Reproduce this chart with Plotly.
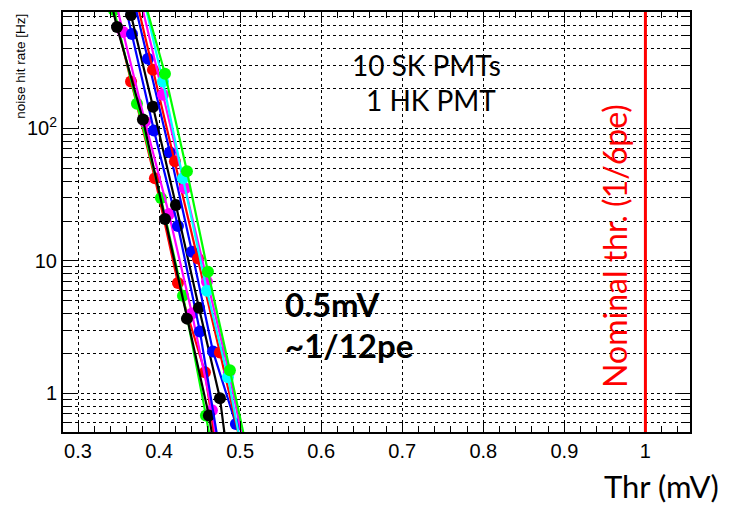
import plotly.graph_objects as go

# ---------------- data ----------------
green_a_x = [0.3444, 0.3727, 0.4023, 0.4295, 0.4578, 0.4680]
green_a_y = [785, 154, 29.8, 5.46, 0.68, 0.30]

magenta_a_x = [0.3290, 0.3555, 0.3826, 0.4122, 0.4406, 0.4652, 0.4750]
magenta_a_y = [2600, 536, 113, 22.6, 4.0, 0.745, 0.30]

red_b_x = [0.3370, 0.3654, 0.3949, 0.4233, 0.4566, 0.4690]
red_b_y = [1170, 226, 42, 6.8, 1.44, 0.44]

black_b_x = [0.3210, 0.3481, 0.3801, 0.4073, 0.4344, 0.4615, 0.4720]
black_b_y = [2900, 585, 117, 20.7, 3.66, 0.68, 0.28]

blue_b_x = [0.3400, 0.3666, 0.3937, 0.4233, 0.4504, 0.4726]
blue_b_y = [2600, 518, 96.6, 18.3, 2.93, 0.44]

black_a_x = [0.3380, 0.3654, 0.3925, 0.4208, 0.4492, 0.4751, 0.4825]
black_a_y = [3900, 719, 146, 26.4, 4.43, 0.917, 0.41]

blue_a_x = [0.3590, 0.3863, 0.4134, 0.4406, 0.4665, 0.4948, 0.5120]
blue_a_y = [1680, 336, 66, 11.7, 2.07, 0.585, 0.44]

red_a_x = [0.3654, 0.3925, 0.4196, 0.4480, 0.4751, 0.4998]
red_a_y = [1390, 278, 56.5, 10.4, 2.03, 0.44]

magenta_b_x = [0.3777, 0.4048, 0.4319, 0.4591, 0.4862, 0.5060]
magenta_b_y = [901, 180, 35.4, 6.95, 1.44, 0.37]

cyan_x = [0.3777, 0.4048, 0.4295, 0.4591, 0.4850, 0.4998]
cyan_y = [1170, 226, 42, 5.95, 1.32, 0.44]

green_b_x = [0.3826, 0.4073, 0.4344, 0.4603, 0.4874, 0.5060]
green_b_y = [901, 259, 47.5, 8.27, 1.49, 0.44]

NOMINAL_THR = 1.0

x_tick_vals = [0.3, 0.4, 0.5, 0.6, 0.7, 0.8, 0.9, 1.0]
y_tick_vals = [1, 10, 100]
y_tick_text = ["1", "10", "10<sup>2</sup>"]
y_minor_vals = [0.6, 0.7, 0.8, 0.9,
                2, 3, 4, 5, 6, 7, 8, 9,
                20, 30, 40, 50, 60, 70, 80, 90,
                200, 300, 400, 500, 600, 700]

series = [
    ("#ff0000", red_b_x, red_b_y),
    ("#00ff00", green_a_x, green_a_y),
    ("#ff00ff", magenta_a_x, magenta_a_y),
    ("#000000", black_b_x, black_b_y),
    ("#0000ff", blue_b_x, blue_b_y),
    ("#000000", black_a_x, black_a_y),
    ("#0000ff", blue_a_x, blue_a_y),
    ("#ff0000", red_a_x, red_a_y),
    ("#ff00ff", magenta_b_x, magenta_b_y),
    ("#00ffff", cyan_x, cyan_y),
    ("#00ff00", green_b_x, green_b_y),
]

fig = go.Figure()
for color, xs, ys in series:
    fig.add_trace(go.Scatter(
        x=xs, y=ys, mode="lines+markers",
        line=dict(color=color, width=2.2),
        marker=dict(color=color, size=12, symbol="circle"),
        showlegend=False, hoverinfo="skip",
    ))

fig.add_shape(type="line", xref="x", yref="paper",
              x0=NOMINAL_THR, x1=NOMINAL_THR, y0=0, y1=1,
              line=dict(color="#ff0000", width=3))

axis_common = dict(
    showline=True, linecolor="black", linewidth=2, mirror="allticks",
    ticks="inside", tickcolor="black", tickwidth=1,
    showgrid=True, gridcolor="black", griddash="dot", gridwidth=1,
    zeroline=False, tickfont=dict(family="Liberation Sans", size=20, color="black"),
)

fig.update_xaxes(
    range=[0.2815, 1.055], tickvals=x_tick_vals, ticklen=11,
    minor=dict(dtick=0.02, tick0=0.3, ticks="inside", ticklen=6,
               tickcolor="black", showgrid=False),
    **axis_common,
)
fig.update_yaxes(
    type="log", range=[-0.293, 2.88],
    tickvals=y_tick_vals, ticktext=y_tick_text, ticklen=15,
    minor=dict(tickvals=y_minor_vals, ticks="inside", ticklen=8,
               tickcolor="black", showgrid=True, gridcolor="black",
               griddash="dot", gridwidth=1),
    **axis_common,
)

calibri_like = "Lato"
fig.update_layout(
    width=729, height=505,
    margin=dict(l=63, r=39, t=10, b=73),
    paper_bgcolor="white", plot_bgcolor="white",
    showlegend=False,
    annotations=[
        dict(text="noise hit rate [Hz]", xref="paper", yref="paper",
             x=-0.068, y=1.0, xanchor="center", yanchor="top",
             textangle=-90, showarrow=False,
             font=dict(family="Liberation Sans", size=13.5, color="black")),
        dict(text="10 SK PMTs", xref="paper", yref="paper",
             x=0.5805, y=0.8744, xanchor="center", yanchor="middle",
             showarrow=False, font=dict(family=calibri_like, size=28, color="black")),
        dict(text="1 HK PMT", xref="paper", yref="paper",
             x=0.587, y=0.7915, xanchor="center", yanchor="middle",
             showarrow=False, font=dict(family=calibri_like, size=28, color="black")),
        dict(text="<b>0.5mV</b>", xref="paper", yref="paper",
             x=0.3509, y=0.3057, xanchor="left", yanchor="middle",
             showarrow=False, font=dict(family=calibri_like, size=33, color="black")),
        dict(text="<b>~1/12pe</b>", xref="paper", yref="paper",
             x=0.3509, y=0.2062, xanchor="left", yanchor="middle",
             showarrow=False, font=dict(family=calibri_like, size=33, color="black")),
        dict(text="Nominal thr. (1/6pe)", xref="paper", yref="paper",
             x=0.8804, y=0.443, xanchor="center", yanchor="middle",
             textangle=-90, showarrow=False,
             font=dict(family=calibri_like, size=32, color="#ff0000")),
        dict(text="Thr (mV)", xref="paper", yref="paper",
             x=0.954, y=-0.128, xanchor="center", yanchor="middle",
             showarrow=False, font=dict(family=calibri_like, size=31, color="black")),
    ],
)

fig.write_html(
    "out.html",
    config={"displayModeBar": False},
    post_script="document.body.style.margin='0px';document.body.style.padding='0px';",
)
